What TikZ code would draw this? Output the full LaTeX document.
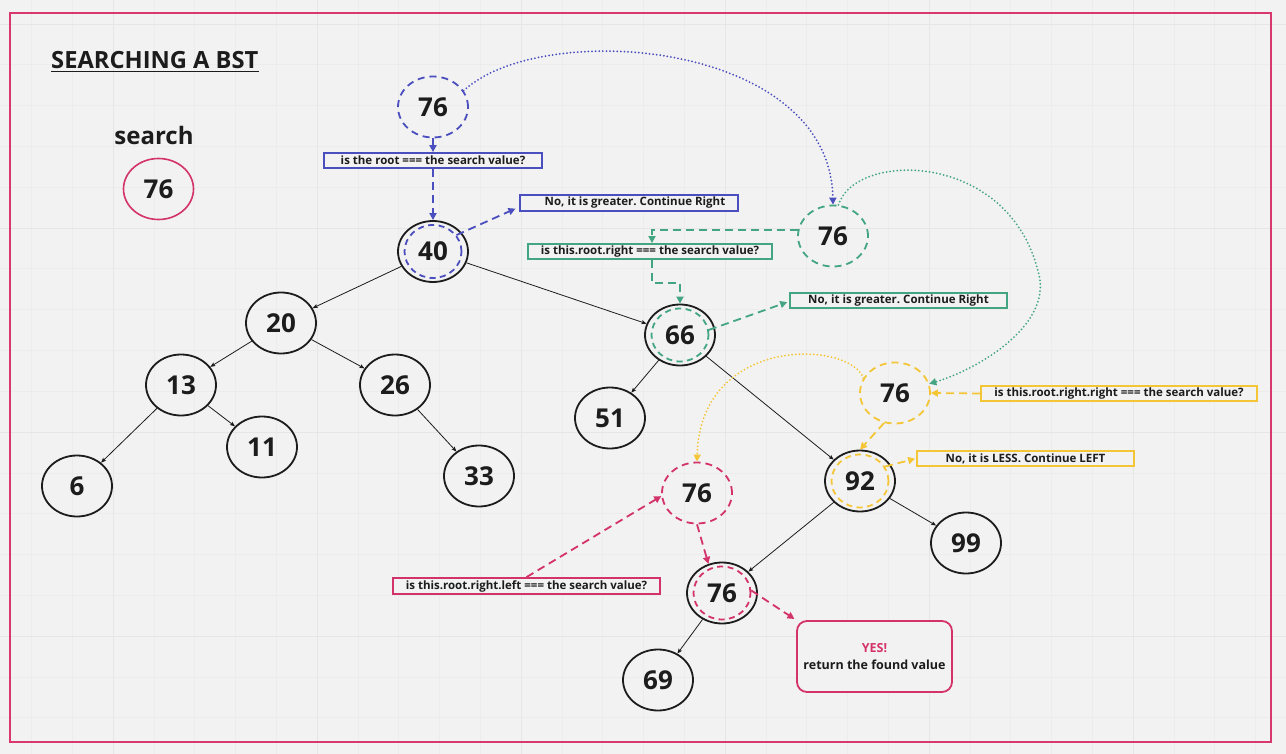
\documentclass[tikz,border=0pt]{standalone}
\usepackage{fontspec}
\setmainfont{Open Sans}
\usetikzlibrary{shapes.geometric,arrows.meta}
\definecolor{bg}{HTML}{F2F2F2}
\definecolor{gridminor}{HTML}{ECECEC}
\definecolor{gridmajor}{HTML}{E6E6E6}
\definecolor{ink}{HTML}{1C1C1C}
\definecolor{cblue}{HTML}{4A4EBE}
\definecolor{cgreen}{HTML}{43A582}
\definecolor{cyellow}{HTML}{F4C637}
\definecolor{cpink}{HTML}{D4326A}
\definecolor{frame}{HTML}{D8386E}
\frenchspacing
\begin{document}
\begin{tikzpicture}[x=1pt,y=-1pt,
  tnode/.style={ellipse, draw=ink, line width=1.8pt, minimum width=70pt, minimum height=61pt, inner sep=0pt, text=ink, font=\bfseries\fontsize{26}{26}\selectfont},
  ghost/.style={ellipse, line width=1.8pt, dash pattern=on 7pt off 5pt, minimum width=70pt, minimum height=61pt, inner sep=0pt, text=ink, font=\bfseries\fontsize{26}{26}\selectfont},
  innerring/.style={ellipse, line width=1.8pt, dash pattern=on 6pt off 4.5pt, minimum width=57pt, minimum height=53pt, inner sep=0pt},
  qbox/.style={rectangle, line width=1.8pt, inner sep=0pt, fill=bg, text=ink, font=\bfseries\fontsize{11.5}{13}\selectfont},
  dashedge/.style={line width=1.8pt, dash pattern=on 8pt off 5pt, -{Triangle[length=7pt,width=7pt]}},
  dotedge/.style={line width=2pt, dash pattern=on 0pt off 3.6pt, line cap=round, -{Triangle[length=7pt,width=7pt]}},
  treeedge/.style={draw=ink, line width=0.8pt, -{Stealth[length=5pt,width=4pt,inset=1pt]}}
]
\useasboundingbox (0,0) rectangle (1286,754);
\fill[bg] (0,0) rectangle (1286,754);
% grid
\foreach \i in {0,...,31} {\draw[gridminor, line width=0.6pt] ({31.4+\i*40.8},0) -- ({31.4+\i*40.8},754);}
\foreach \i in {0,...,18} {\draw[gridminor, line width=0.6pt] (0,{24+\i*40.8}) -- (1286,{24+\i*40.8});}
\foreach \x in {113,317,521,725,929,1133} {\draw[gridmajor, line width=0.9pt] (\x,0) -- (\x,754);}
\foreach \y in {24,228,432,636} {\draw[gridmajor, line width=0.9pt] (0,\y) -- (1286,\y);}
% frame
\draw[frame, line width=2pt] (10,13) rectangle (1271,742);

% title
\node[font=\bfseries\fontsize{23.7}{24}\selectfont, text=ink, anchor=base west, inner sep=0pt] (title) at (51,69) {SEARCHING A BST};
\draw[ink, line width=1.6pt] ([yshift=-2.5pt]title.base west) -- ([yshift=-2.5pt]title.base east);
\node[font=\bfseries\fontsize{24}{24}\selectfont, text=ink] (searchlbl) at (154,136) {search};
\node[tnode, draw=cpink, line width=1.6pt] (s76) at (158.5,189) {76};

% tree
\node[tnode] (n40) at (433,251.5) {40};
\node[tnode] (n20) at (281,323) {20};
\node[tnode] (n13) at (181,385) {13};
\node[tnode] (n26) at (395,385) {26};
\node[tnode] (n6) at (77,486) {6};
\node[tnode] (n11) at (262,447) {11};
\node[tnode] (n33) at (479,476) {33};
\node[tnode] (n66) at (680,335) {66};
\node[tnode] (n51) at (610,418) {51};
\node[tnode] (n92) at (860,481) {92};
\node[tnode] (n99) at (966,543) {99};
\node[tnode] (n76) at (722,593) {76};
\node[tnode] (n69) at (658,680) {69};

\draw[treeedge] (n40) -- (n20);
\draw[treeedge] (n40) -- (n66);
\draw[treeedge] (n20) -- (n13);
\draw[treeedge] (n20) -- (n26);
\draw[treeedge] (n13) -- (n6);
\draw[treeedge] (n13) -- (n11);
\draw[treeedge] (n26) -- (n33);
\draw[treeedge] (n66) -- (n51);
\draw[treeedge] (n66) -- (n92);
\draw[treeedge] (n92) -- (n76);
\draw[treeedge] (n92) -- (n99);
\draw[treeedge] (n76) -- (n69);

% inner rings
\node[innerring, draw=cblue] (r40) at (n40.center) {};
\node[innerring, draw=cgreen] (r66) at (n66.center) {};
\node[innerring, draw=cyellow] (r92) at (n92.center) {};
\node[innerring, draw=cpink] (r76) at (n76.center) {};

% ghost search nodes
\node[ghost, draw=cblue] (b76) at (433,107) {76};
\node[ghost, draw=cgreen] (g76) at (833,236) {76};
\node[ghost, draw=cyellow] (y76) at (895,393) {76};
\node[ghost, draw=cpink] (p76) at (697,493) {76};

% boxes
\node[qbox, draw=cblue, minimum width=218pt, minimum height=15pt] (qb) at (433,160.5) {is the root === the search value?};
\node[qbox, draw=cblue, minimum width=218pt, minimum height=16pt] (nb) at (629,203) {\hspace*{12pt}No, it is greater. Continue Right};
\node[qbox, draw=cgreen, minimum width=244pt, minimum height=15pt] (qg) at (650,251.5) {is this.root.right === the search value?};
\node[qbox, draw=cgreen, minimum width=217pt, minimum height=15pt] (ng) at (898.5,300.5) {No, it is greater. Continue Right};
\node[qbox, draw=cyellow, minimum width=276pt, minimum height=15pt] (qy) at (1119,393.5) {is this.root.right.right === the search value?};
\node[qbox, draw=cyellow, minimum width=217pt, minimum height=15pt] (ny) at (1025.5,458.5) {No, it is LESS. Continue LEFT};
\node[qbox, draw=cpink, minimum width=267pt, minimum height=16pt] (qp) at (526.5,586) {is this.root.right.left === the search value?};
\node[qbox, draw=cpink, rounded corners=10pt, minimum width=155pt, minimum height=71pt, align=center, font=\bfseries\fontsize{12.5}{17.5}\selectfont] (yes) at (874.5,656.5) {\textcolor{cpink}{YES!}\\return the found value};

% blue step
\draw[dashedge, cblue] (b76.south) -- (qb.north);
\draw[dashedge, cblue] (qb.south) -- (n40.north);
\draw[dashedge, cblue, shorten >=4pt] (r40.35) -- ([yshift=-4pt]nb.west);
\draw[dotedge, cblue] (b76.28) .. controls +(77,-72) and +(-3,-165) .. (g76.north);

% green step
\draw[dashedge, cgreen] (g76.170) -| ([xshift=2pt]qg.north);
\draw[dashedge, cgreen] ([xshift=2pt]qg.south) -- ++(0,23) -| (n66.north);
\draw[dashedge, cgreen, shorten >=2pt] (r66.10) -- ([yshift=-1pt]ng.west);
\draw[dotedge, cgreen] (g76.80) .. controls (855,150) and (1015,150) .. (1040,280) .. controls (1046,330) and (975,370) .. (y76.15);

% yellow step
\draw[dashedge, cyellow] (qy.west) -- (y76.east);
\draw[dashedge, cyellow] (y76.250) -- (n92.north);
\draw[dashedge, cyellow, shorten >=1pt] (r92.30) -- (ny.west);
\draw[dotedge, cyellow] (y76.155) .. controls (850,340) and (700,335) .. (p76.north);

% pink step
\draw[dashedge, cpink] (qp.north) -- (p76.185);
\draw[dashedge, cpink] (p76.south) -- (n76.115);
\draw[dashedge, cpink, shorten >=2pt] (r76.5) -- (yes.north west);
\end{tikzpicture}
\end{document}
